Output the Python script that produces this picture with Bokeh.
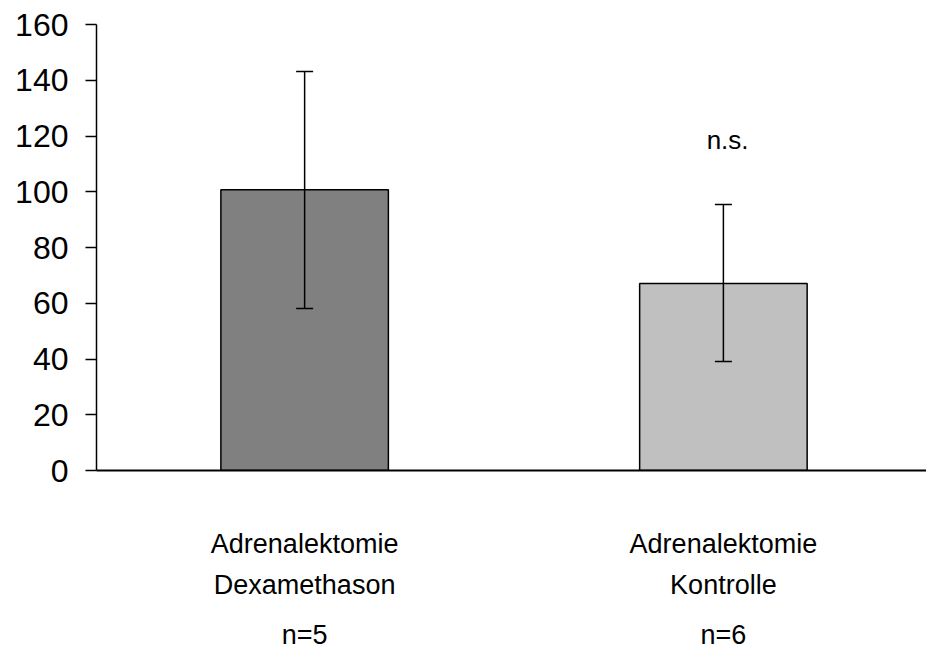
from bokeh.plotting import figure
from bokeh.models import Range1d, FixedTicker, ColumnDataSource, Label, LinearAxis
from bokeh.embed import file_html
from bokeh.resources import INLINE

# data
groups = ["Dexamethason", "Kontrolle"]
line1 = ["Adrenalektomie", "Adrenalektomie"]
line2 = ["Dexamethason", "Kontrolle"]
line3 = ["n=5", "n=6"]
means = [100.7, 67.1]
upper = [143.1, 95.4]
lower = [58.1, 39.1]
colors = ["#808080", "#c0c0c0"]
sig_text = "n.s."
sig_value = 118.5
y_ticks = [0, 20, 40, 60, 80, 100, 120, 140, 160]

xpos = list(range(len(groups)))
src = ColumnDataSource(dict(x=xpos, top=means, upper=upper, lower=lower, color=colors))

p = figure(width=926, height=652, output_backend="svg", toolbar_location=None,
           x_range=Range1d(-0.497, 1.485), y_range=Range1d(0, 160),
           x_axis_location=None,
           min_border_left=96, min_border_right=0, min_border_top=24, min_border_bottom=182)
p.outline_line_color = None
p.xgrid.visible = False
p.ygrid.visible = False
p.background_fill_color = "white"
p.border_fill_color = "white"

p.vbar(x="x", top="top", bottom=0, width=0.4, fill_color="color", line_color="black",
       line_width=1.5, source=src)

# error bars
p.segment(x0="x", y0="lower", x1="x", y1="upper", line_color="black", line_width=1.5, source=src)
p.scatter(x="x", y="upper", marker="dash", size=17, line_color="black", line_width=1.5, source=src)
p.scatter(x="x", y="lower", marker="dash", size=17, line_color="black", line_width=1.5, source=src)

font = "Liberation Sans"
# y axis
p.yaxis.ticker = FixedTicker(ticks=y_ticks)
p.yaxis.minor_tick_line_color = None
p.yaxis.major_tick_in = 0
p.yaxis.major_tick_out = 11
p.yaxis.major_tick_line_width = 1.5
p.yaxis.axis_line_width = 1.5
p.yaxis.major_label_text_font = font
p.yaxis.major_label_text_font_size = "32px"
p.yaxis.major_label_text_color = "black"
p.yaxis.major_label_standoff = 17

# stacked x axes for the three label lines
def make_axis(labels, standoff, show_line):
    ax = LinearAxis(ticker=FixedTicker(ticks=xpos),
                    major_label_overrides={i: labels[i] for i in xpos})
    ax.minor_tick_line_color = None
    ax.major_tick_line_color = None
    ax.major_tick_in = 0
    ax.major_tick_out = 0
    ax.major_label_standoff = standoff
    ax.major_label_text_font = font
    ax.major_label_text_font_size = "27px"
    ax.major_label_text_color = "black"
    if show_line:
        ax.axis_line_width = 2
        ax.axis_line_color = "black"
    else:
        ax.axis_line_color = None
    return ax

p.add_layout(make_axis(line1, 58, True), "below")
p.add_layout(make_axis(line2, 8, False), "below")
p.add_layout(make_axis(line3, 17, False), "below")

p.add_layout(Label(x=1.01, y=sig_value, text=sig_text, text_align="center", text_baseline="alphabetic",
                   text_font=font, text_font_size="26px", text_color="black"))

open("out.html", "w").write(file_html(p, INLINE))
